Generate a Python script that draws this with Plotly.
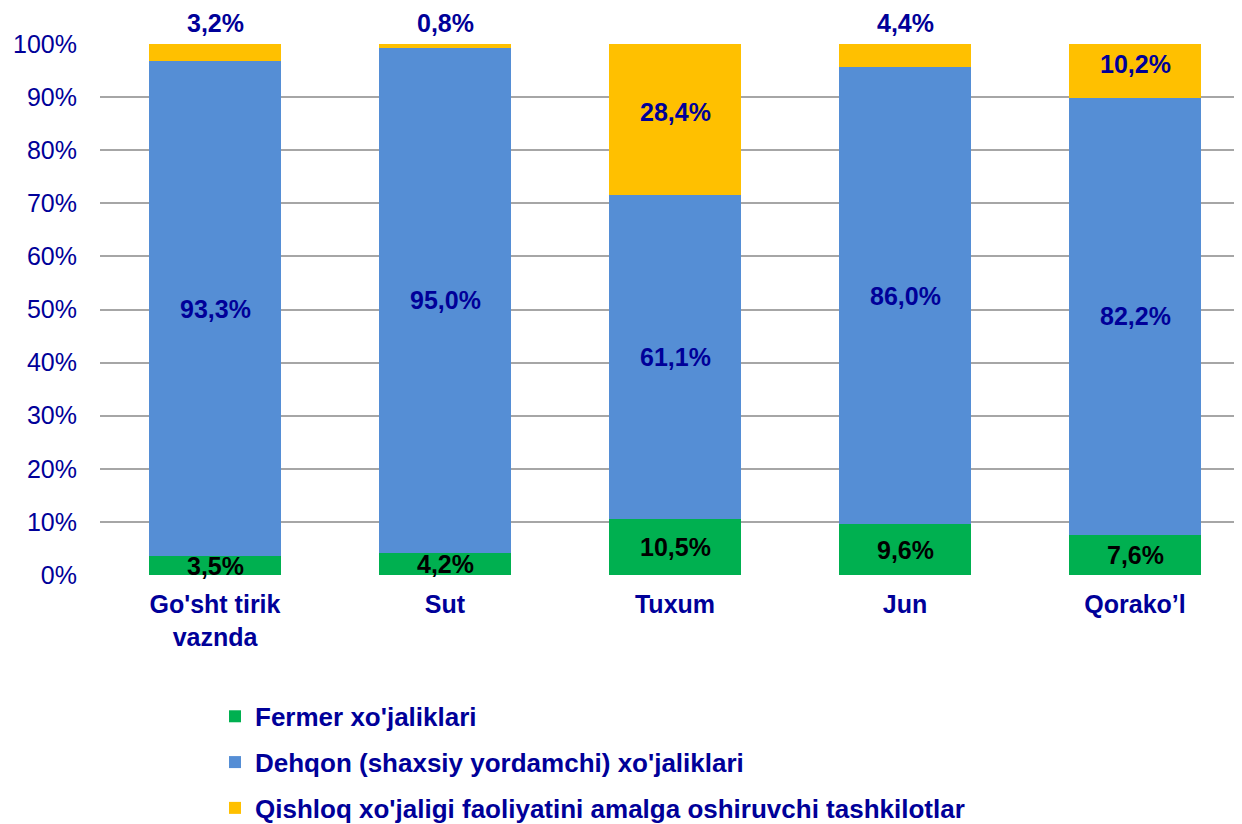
import plotly.graph_objects as go

categories = ["Go'sht tirik<br>vaznda", "Sut", "Tuxum", "Jun", "Qorako’l"]
series_names = ["Fermer xo'jaliklari",
                "Dehqon (shaxsiy yordamchi) xo'jaliklari",
                "Qishloq xo'jaligi faoliyatini amalga oshiruvchi tashkilotlar"]
fermer = [3.5, 4.2, 10.5, 9.6, 7.6]
dehqon = [93.3, 95.0, 61.1, 86.0, 82.2]
tashkilot = [3.2, 0.8, 28.4, 4.4, 10.2]
y_ticks = [0, 10, 20, 30, 40, 50, 60, 70, 80, 90, 100]
y_tick_labels = [f"{t}%" for t in y_ticks]

colors = ["#00B050", "#558ED5", "#FFC000"]
navy = "#000099"
FONT = "Liberation Sans, Arial, sans-serif"
LBL = 25

def fmt(v):
    return f"{v:.1f}".replace(".", ",") + "%"

fig = go.Figure()
for i, (name, vals) in enumerate(zip(series_names, [fermer, dehqon, tashkilot])):
    fig.add_trace(go.Bar(
        x=list(range(len(categories))), y=vals, name=f"<b>{name}</b>",
        marker=dict(color=colors[i], line=dict(width=0)),
        legendgroup=f"g{i}", hoverinfo="skip",
    ))

annotations = []
for j in range(len(categories)):
    fy = max(fermer[j] / 2, 1.5)
    annotations.append(dict(x=j, y=fy, text=f"<b>{fmt(fermer[j])}</b>", showarrow=False,
                            font=dict(family=FONT, size=LBL, color="#000000"),
                            yanchor="middle"))
    annotations.append(dict(x=j, y=fermer[j] + dehqon[j] / 2, text=f"<b>{fmt(dehqon[j])}</b>",
                            showarrow=False, font=dict(family=FONT, size=LBL, color=navy),
                            yanchor="middle"))
    if tashkilot[j] >= 8:
        annotations.append(dict(x=j, y=fermer[j] + dehqon[j] + tashkilot[j] / 2 + 1.4,
                                text=f"<b>{fmt(tashkilot[j])}</b>", showarrow=False,
                                font=dict(family=FONT, size=LBL, color=navy), yanchor="middle"))
    else:
        annotations.append(dict(x=j, y=100, text=f"<b>{fmt(tashkilot[j])}</b>", showarrow=False,
                                font=dict(family=FONT, size=LBL, color=navy), yanchor="bottom",
                                yshift=5))

fig.update_layout(
    barmode="stack",
    bargap=0.426,
    width=1242, height=824,
    margin=dict(l=92, r=0, t=36, b=257),
    paper_bgcolor="white", plot_bgcolor="white",
    showlegend=True,
    legend=dict(orientation="v", x=0.1, xanchor="left", y=-0.222, yanchor="top",
                traceorder="grouped", tracegroupgap=9,
                font=dict(family=FONT, size=26, color=navy),
                itemwidth=30),
    annotations=annotations,
    xaxis=dict(tickmode="array", tickvals=list(range(len(categories))),
               ticktext=[f"<b>{c}</b>" for c in categories],
               range=[-0.5, 4.5], showgrid=False, zeroline=False, showline=False,
               tickfont=dict(family=FONT, size=25, color=navy), ticks="",
               ticklabelstandoff=12),
    yaxis=dict(range=[0, 100], tickvals=y_ticks, ticktext=y_tick_labels,
               showgrid=True, gridcolor="#A6A6A6", gridwidth=2, zeroline=False,
               showline=False, tickfont=dict(family=FONT, size=25, color=navy),
               ticks="", ticklabelstandoff=22),
)

fig.write_html("out.html")
